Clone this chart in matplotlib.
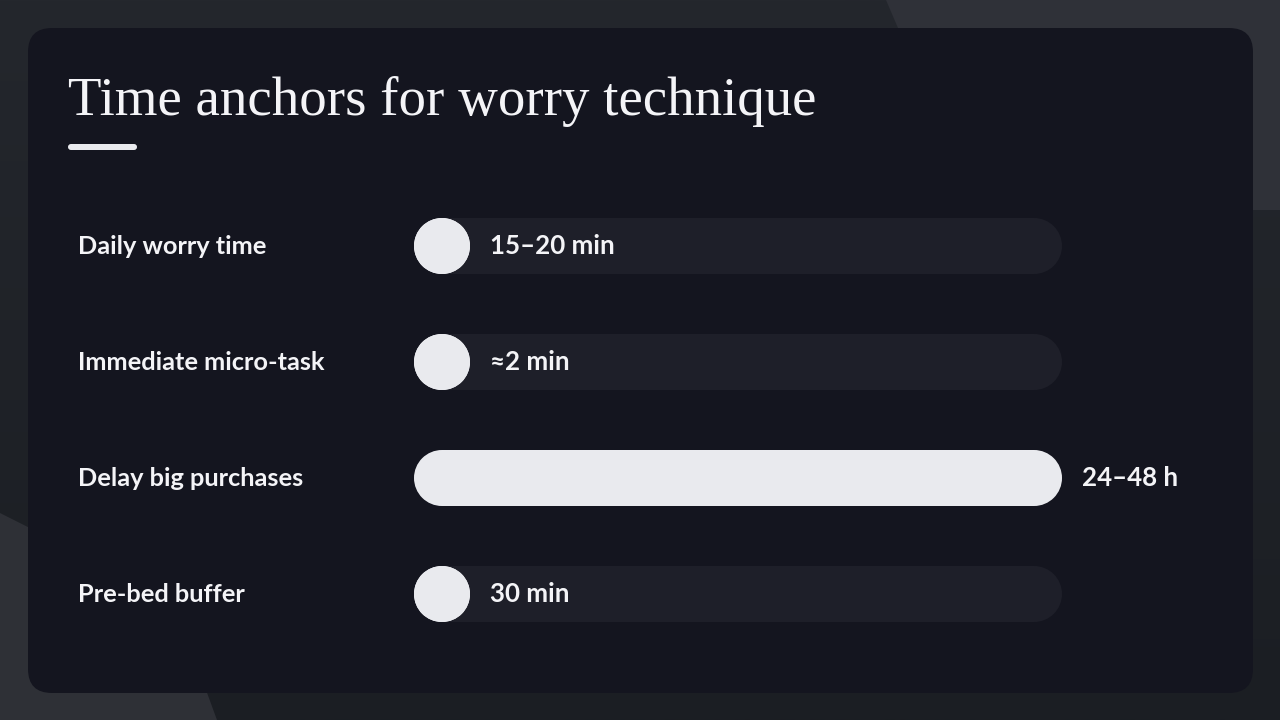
import matplotlib
matplotlib.use("Agg")
import matplotlib.pyplot as plt
from matplotlib.patches import FancyBboxPatch, Polygon, Rectangle, Ellipse
from matplotlib.colors import LinearSegmentedColormap
import numpy as np

# ---- data ----
title = "Time anchors for worry technique"
labels = ["Daily worry time", "Immediate micro-task", "Delay big purchases", "Pre-bed buffer"]
values_min = [17.5, 2, 2880, 30]          # minutes (range midpoint / upper bound)
value_text = ["15–20 min", "≈2 min", "24–48 h", "30 min"]
scale_max = 2880

# ---- style ----
W, H = 1280, 720
BG_TOP, BG_BOT = "#24272d", "#1b1e23"
CARD = "#14151f"
TRACK = "#1e1f29"
FILL = "#e9eaee"
TEXT = "#f4f4f7"
LABEL_FONT = ["Lato", "DejaVu Sans"]
TITLE_FONT = ["Liberation Serif", "DejaVu Serif"]

fig = plt.figure(figsize=(W / 100, H / 100), dpi=100)

# background + card in pixel space
bg = fig.add_axes([0, 0, 1, 1])
bg.set_xlim(0, W)
bg.set_ylim(H, 0)
bg.axis("off")
grad = np.linspace(0, 1, 256)[:, None]
cmap = LinearSegmentedColormap.from_list("bg", [BG_TOP, BG_BOT])
bg.imshow(grad, cmap=cmap, extent=(0, W, H, 0), aspect="auto", zorder=0)
bg.add_patch(Polygon([(886, 0), (W, 0), (W, 210), (976, 210)], closed=True,
                     facecolor="#2f3138", edgecolor="none", zorder=1))
bg.add_patch(Polygon([(0, 513), (173, 600), (217, H), (0, H)], closed=True,
                     facecolor="#2e3036", edgecolor="none", zorder=1))
bg.add_patch(FancyBboxPatch((28, 28), 1225, 665, boxstyle="round,pad=0,rounding_size=24",
                            facecolor=CARD, edgecolor="none", zorder=2))
bg.text(68, 115, title, fontsize=39.5, color=TEXT, family=TITLE_FONT,
        ha="left", va="baseline", zorder=3)
bg.add_patch(FancyBboxPatch((68, 144), 69, 6, boxstyle="round,pad=0,rounding_size=3",
                            facecolor=FILL, edgecolor="none", zorder=3))

# bar area
track_l, track_r = 414, 1062
row_top, row_pitch = 246, 116
n = len(labels)
ax_top = row_top - row_pitch / 2
ax_h = row_pitch * n
ax = fig.add_axes([track_l / W, 1 - (ax_top + ax_h) / H, (track_r - track_l) / W, ax_h / H])
ax.set_xlim(0, scale_max)
ax.set_ylim(n - 0.5, -0.5)
ax.axis("off")
ax.patch.set_alpha(0)

bar_px = 56
x_per_px = scale_max / (track_r - track_l)
y_per_px = 1 / row_pitch
bh = bar_px * y_per_px
rx = bar_px / 2 * x_per_px


def pill(x0, x1, y, color, z):
    ax.add_patch(Rectangle((x0 + rx, y - bh / 2), max(x1 - x0 - 2 * rx, 0), bh,
                           facecolor=color, edgecolor="none", zorder=z))
    for cx in (x0 + rx, x1 - rx):
        ax.add_patch(Ellipse((cx, y), 2 * rx, bh, facecolor=color, edgecolor="none", zorder=z))


for i, (lab, v, vt) in enumerate(zip(labels, values_min, value_text)):
    pill(0, scale_max, i, TRACK, 1)
    w = max(v, 2 * rx)
    pill(0, w, i, FILL, 2)
    ax.annotate(vt, (w, i), xytext=(20 * 0.72, 0), textcoords="offset points",
                ha="left", va="center", fontsize=18.6, fontweight="bold",
                color=TEXT, family=LABEL_FONT, annotation_clip=False, zorder=3)
    bg.text(78, row_top + i * row_pitch + 1, lab, ha="left", va="center", fontsize=18.3,
            fontweight="bold", color=TEXT, family=LABEL_FONT, zorder=3)

fig.savefig("out.png", dpi=100, facecolor=BG_TOP)
